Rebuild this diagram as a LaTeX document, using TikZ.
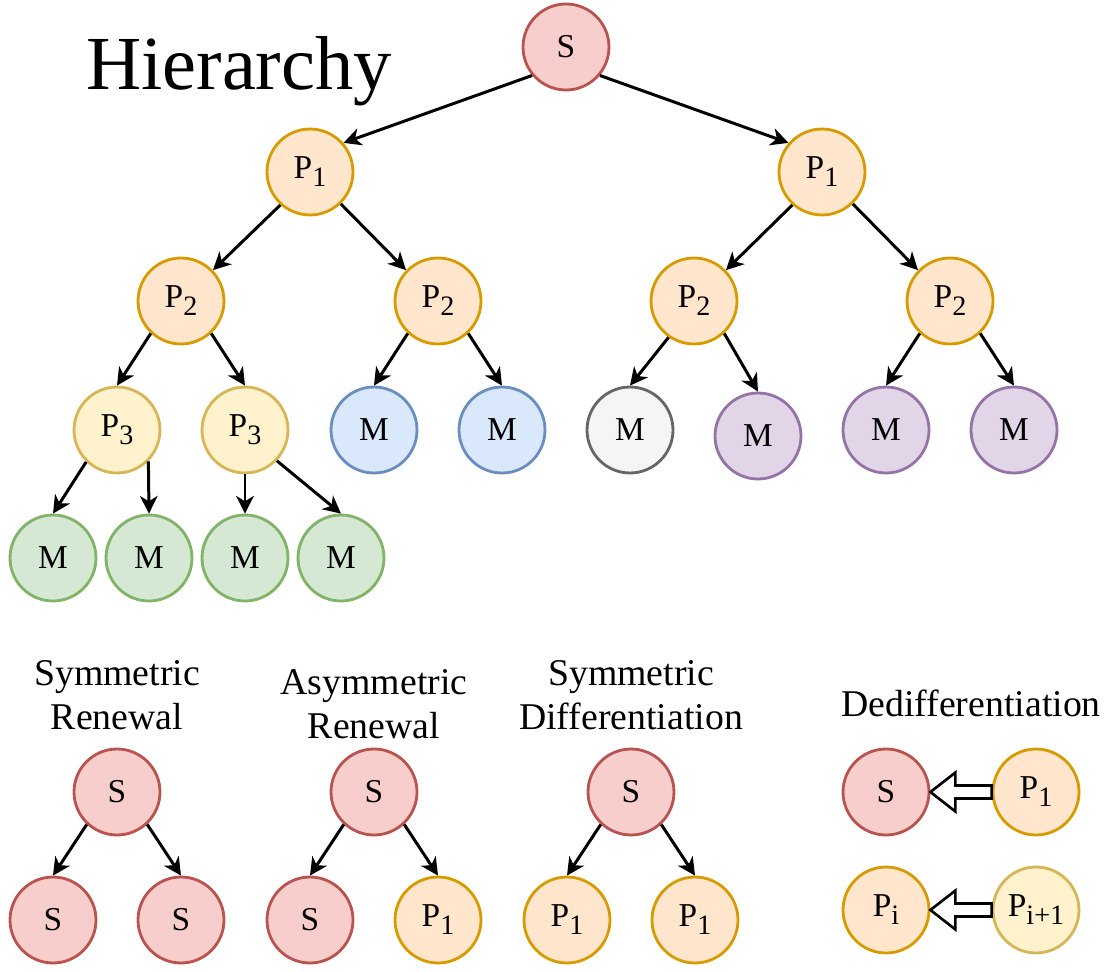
\documentclass[tikz,border=0pt]{standalone}
\usepackage{fontspec}
\setmainfont{Liberation Serif}
\usetikzlibrary{arrows.meta,calc}

% draw.io palette
\definecolor{redF}{HTML}{F8CECC}\definecolor{redD}{HTML}{B85450}
\definecolor{orgF}{HTML}{FFE6CC}\definecolor{orgD}{HTML}{D79B00}
\definecolor{yelF}{HTML}{FFF2CC}\definecolor{yelD}{HTML}{D6B656}
\definecolor{bluF}{HTML}{DAE8FC}\definecolor{bluD}{HTML}{6C8EBF}
\definecolor{grnF}{HTML}{D5E8D4}\definecolor{grnD}{HTML}{82B366}
\definecolor{gryF}{HTML}{F5F5F5}\definecolor{gryD}{HTML}{666666}
\definecolor{purF}{HTML}{E1D5E7}\definecolor{purD}{HTML}{9673A6}

% lowered index in the cell labels
\newcommand\lowidx[1]{\raisebox{-0.24em}{\fontsize{16}{16}\selectfont #1}}

\tikzset{
  cell/.style={circle, minimum size=1.72cm, inner sep=0pt, line width=1.6pt,
    font=\fontsize{19}{22}\selectfont},
  stem/.style={cell, fill=redF, draw=redD},
  prog/.style={cell, fill=orgF, draw=orgD},
  late/.style={cell, fill=yelF, draw=yelD},
  mblue/.style={cell, fill=bluF, draw=bluD},
  mgreen/.style={cell, fill=grnF, draw=grnD},
  mgray/.style={cell, fill=gryF, draw=gryD},
  mpurple/.style={cell, fill=purF, draw=purD},
  link/.style={line width=1.7pt, -{Stealth[length=10pt,width=10pt,inset=3pt]}},
  hollow/.style={line width=1.5pt, fill=white, line join=miter},
  caption/.style={align=center, font=\fontsize{21.5}{25}\selectfont},
}

\begin{document}
\begin{tikzpicture}[x=0.02cm, y=-0.02cm]
\useasboundingbox (0,0) rectangle (1111,972);

\node[anchor=base west, font=\fontsize{43.5}{50}\selectfont] (title) at (80,90) {Hierarchy};

% lineage tree
\node[stem] (s) at (566,47) {S};
\node[prog] (p1l) at (310,172) {P\lowidx{1}};
\node[prog] (p1r) at (822,172) {P\lowidx{1}};
\node[prog] (p2a) at (181,301) {P\lowidx{2}};
\node[prog] (p2b) at (438,301) {P\lowidx{2}};
\node[prog] (p2c) at (694,301) {P\lowidx{2}};
\node[prog] (p2d) at (950,301) {P\lowidx{2}};
\node[late] (p3a) at (117,430) {P\lowidx{3}};
\node[late] (p3b) at (245,430) {P\lowidx{3}};
\node[mblue] (mb1) at (374,430) {M};
\node[mblue] (mb2) at (502,430) {M};
\node[mgray] (mg) at (630,430) {M};
\node[mpurple] (mp1) at (758,436) {M};
\node[mpurple] (mp2) at (886,430) {M};
\node[mpurple] (mp3) at (1014,430) {M};
\node[mgreen] (mg1) at (53,558) {M};
\node[mgreen] (mg2) at (149,558) {M};
\node[mgreen] (mg3) at (245,558) {M};
\node[mgreen] (mg4) at (341,558) {M};

\draw[link] (s.-140) -- (p1l.41);
\draw[link] (s.-40) -- (p1r.139);
\draw[link] (p1l.-132) -- (p2a.44);
\draw[link] (p1l.-46) -- (p2b.136);
\draw[link] (p1r.-132) -- (p2c.44);
\draw[link] (p1r.-46) -- (p2d.136);
\draw[link] (p2a.-133) -- (p3a.north);
\draw[link] (p2a.-47) -- (p3b.north);
\draw[link] (p2b.-133) -- (mb1.north);
\draw[link] (p2b.-47) -- (mb2.north);
\draw[link] (p2c.-125) -- (mg.north);
\draw[link] (p2c.-47) -- (mp1.north);
\draw[link] (p2d.-133) -- (mp2.north);
\draw[link] (p2d.-47) -- (mp3.north);
\draw[link] (p3a.-134) -- (mg1.north);
\draw[link] (p3a.-45) -- (mg2.north);
\draw[link] (p3b.south) -- (mg3.north);
\draw[link] (p3b.-44) -- (mg4.north);

% division modes
\node[caption] (c1) at (117,695) {Symmetric\\Renewal};
\node[caption] (c2) at (374,704) {Asymmetric\\Renewal};
\node[caption] (c3) at (631,695) {Symmetric\\Differentiation};
\node[caption] (c4) at (971,703) {Dedifferentiation};

\node[stem] (sr) at (117,792) {S};
\node[stem] (sr1) at (53,920) {S};
\node[stem] (sr2) at (181,920) {S};
\draw[link] (sr.-133) -- (sr1.north);
\draw[link] (sr.-47) -- (sr2.north);

\node[stem] (ar) at (374,792) {S};
\node[stem] (ar1) at (310,920) {S};
\node[prog] (ar2) at (438,920) {P\lowidx{1}};
\draw[link] (ar.-133) -- (ar1.north);
\draw[link] (ar.-47) -- (ar2.north);

\node[stem] (sd) at (631,792) {S};
\node[prog] (sd1) at (567,920) {P\lowidx{1}};
\node[prog] (sd2) at (695,920) {P\lowidx{1}};
\draw[link] (sd.-133) -- (sd1.north);
\draw[link] (sd.-47) -- (sd2.north);

% dedifferentiation: hollow block arrows
\node[stem] (ds) at (886,792) {S};
\node[prog] (dp1) at (1036,792) {P\lowidx{1}};
\node[prog] (dpi) at (886,910) {P\lowidx{i}};
\node[late] (dpj) at (1036,910) {P\lowidx{i+1}};

\draw[hollow] (ds.east) -- ++(25,-19.5) -- ++(0,13) -- ($(dp1.west)+(0,-6.5)$)
  -- ($(dp1.west)+(0,6.5)$) -- ($(ds.east)+(25,6.5)$) -- ++(0,13) -- cycle;
\draw[hollow] (dpi.east) -- ++(25,-19.5) -- ++(0,13) -- ($(dpj.west)+(0,-6.5)$)
  -- ($(dpj.west)+(0,6.5)$) -- ($(dpi.east)+(25,6.5)$) -- ++(0,13) -- cycle;
\end{tikzpicture}
\end{document}
